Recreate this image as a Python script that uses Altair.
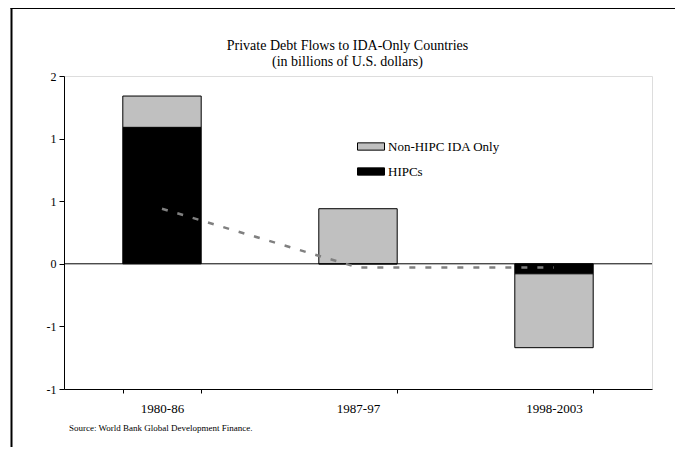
import altair as alt
import pandas as pd

# ---- data ----
periods = ["1980-86", "1987-97", "1998-2003"]
hipc = [1.09, 0.0, -0.08]
non_hipc = [0.25, 0.44, -0.59]
trend = [0.44, -0.03, -0.03]
series_names = ["Non-HIPC IDA Only", "HIPCs"]
series_colors = ["#c0c0c0", "#000000"]
y_ticks = [-1, -0.5, 0, 0.5, 1, 1.5]
title_lines = ["Private Debt Flows to IDA-Only Countries", "(in billions of U.S. dollars)"]
source_text = "Source: World Bank Global Development Finance."

FONT = "Liberation Serif"

rows = []
for p, h, n in zip(periods, hipc, non_hipc):
    rows.append({"period": p, "series": "HIPCs", "value": h, "ord": 0})
    rows.append({"period": p, "series": "Non-HIPC IDA Only", "value": n, "ord": 1})
bars_df = pd.DataFrame(rows)
trend_df = pd.DataFrame({"period": periods, "value": trend})
zero_df = pd.DataFrame({"zero": [0]})
dummy = pd.DataFrame({"d": [0]})

x_axis = alt.Axis(
    title=None, labelAngle=0, tickBand="extent", tickSize=4, labelPadding=9,
    labelFont=FONT, labelFontSize=13, labelColor="black",
    tickColor="black", domainColor="black", grid=False,
)
y_axis = alt.Axis(
    title=None, values=y_ticks, tickSize=5, labelPadding=3,
    labelExpr="datum.value < 0 ? '-' + format(abs(datum.value), '.0f') : format(datum.value, '.0f')",
    labelFont=FONT, labelFontSize=12, labelColor="black",
    tickColor="black", domainColor="black", grid=False,
)
x_scale = alt.Scale(paddingInner=0.6, paddingOuter=0.3)
y_scale = alt.Scale(domain=[-1, 1.5], nice=False, zero=False)

bars = alt.Chart(bars_df).mark_bar(stroke="black", strokeWidth=1).encode(
    x=alt.X("period:N", sort=periods, scale=x_scale, axis=x_axis),
    y=alt.Y("value:Q", stack="zero", scale=y_scale, axis=y_axis),
    color=alt.Color(
        "series:N",
        scale=alt.Scale(domain=series_names, range=series_colors),
        legend=alt.Legend(
            title=None, orient="none", legendX=293, legendY=56.5,
            symbolType="M-1,-0.27H1V0.27H-1Z", symbolSize=729,
            symbolStrokeColor="black", symbolStrokeWidth=1,
            labelFont=FONT, labelFontSize=13, labelColor="black",
            labelOffset=3, rowPadding=4, padding=0,
        ),
    ),
    order=alt.Order("ord:Q"),
)

zero_rule = alt.Chart(zero_df).mark_rule(color="black", strokeWidth=1).encode(
    y=alt.Y("zero:Q", scale=y_scale)
)

line = alt.Chart(trend_df).mark_line(
    color="#808080", strokeWidth=2.5, strokeDash=[6, 10]
).encode(
    x=alt.X("period:N", sort=periods),
    y=alt.Y("value:Q"),
)

title1 = alt.Chart(dummy).mark_text(
    font=FONT, fontSize=14, color="black", align="center", baseline="alphabetic"
).encode(x=alt.value(283.5), y=alt.value(-26), text=alt.value(title_lines[0]))
title2 = alt.Chart(dummy).mark_text(
    font=FONT, fontSize=14, color="black", align="center", baseline="alphabetic"
).encode(x=alt.value(283.5), y=alt.value(-10), text=alt.value(title_lines[1]))

source = alt.Chart(dummy).mark_text(
    font=FONT, fontSize=9, color="black", align="left", baseline="alphabetic"
).encode(x=alt.value(5), y=alt.value(355), text=alt.value(source_text))

left_border = alt.Chart(dummy).mark_rule(color="black", strokeWidth=2).encode(
    x=alt.value(-52.5), y=alt.value(-68), y2=alt.value(371)
)
top_border = alt.Chart(dummy).mark_rule(color="black", strokeWidth=2).encode(
    x=alt.value(-53.5), x2=alt.value(611), y=alt.value(-68)
)

chart = alt.layer(
    bars, zero_rule, line, title1, title2, source, left_border, top_border
).properties(
    width=588, height=313,
    autosize=alt.AutoSizeParams(type="none"),
    padding={"left": 56, "top": 68, "right": 23, "bottom": 58},
).configure_view(stroke="black", strokeWidth=1).configure(background="white")

chart.save("out.html", embed_options={"renderer": "svg", "actions": False})
